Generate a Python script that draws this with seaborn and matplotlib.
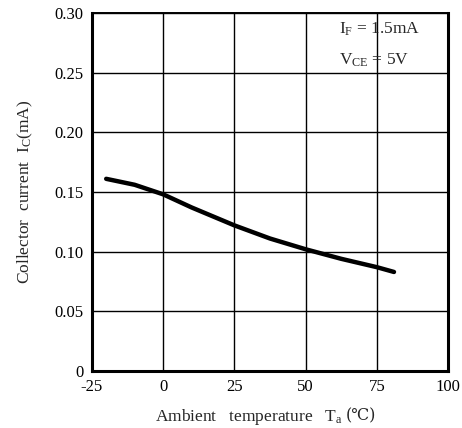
import matplotlib
matplotlib.use("Agg")
import matplotlib.pyplot as plt
import seaborn as sns
import pandas as pd

# Collector current vs. ambient temperature (I_F = 1.5 mA, V_CE = 5 V)
temperature = [-20, -10, 0, 10, 25, 37.5, 50, 62.5, 75, 81]
collector_current = [0.161, 0.156, 0.148, 0.137, 0.122, 0.111, 0.102, 0.094, 0.087, 0.083]

x_ticks = [-25, 0, 25, 50, 75, 100]
y_ticks = [0, 0.05, 0.10, 0.15, 0.20, 0.25, 0.30]
y_tick_labels = ["0", "0.05", "0.10", "0.15", "0.20", "0.25", "0.30"]

sns.set_theme(style="white")
serif = ["Liberation Serif", "DejaVu Serif", "DejaVu Sans"]
plt.rcParams["font.family"] = serif
plt.rcParams["mathtext.fontset"] = "custom"
plt.rcParams["mathtext.rm"] = "Liberation Serif"
plt.rcParams["mathtext.it"] = "Liberation Serif:italic"

df = pd.DataFrame({"Ta": temperature, "Ic": collector_current})

fig = plt.figure(figsize=(4.62, 4.28), dpi=100)
ax = fig.add_axes([0.199, 0.133, 0.771, 0.837])

sns.lineplot(data=df, x="Ta", y="Ic", ax=ax, color="black", linewidth=3.2)

ax.set_xlim(-25, 100)
ax.set_ylim(0, 0.30)
ax.set_xticks(x_ticks)
ax.set_xticklabels([str(t) for t in x_ticks])
ax.set_yticks(y_ticks)
ax.set_yticklabels(y_tick_labels)
ax.tick_params(axis="both", length=0, labelsize=12, colors="black", pad=6)
ax.set_xlabel("")

ax.grid(True, color="black", linewidth=1.0)
for side in ["left", "bottom", "right"]:
    ax.spines[side].set_linewidth(2.2)
    ax.spines[side].set_color("black")
ax.spines["top"].set_linewidth(1.4)
ax.spines["top"].set_color("black")

# x title: main part with a mathtext subscript, then the ℃ sign in DejaVu Serif
t1 = fig.text(0.335, 0.016, r"Ambient   temperature   T$_\mathregular{a}$",
              fontsize=12.5, ha="left", va="baseline")
ax.annotate("(℃)", xy=(1.0, 0.0), xycoords=t1, xytext=(2, 2.2), textcoords="offset points",
            fontsize=11.5, family=["DejaVu Serif"], ha="left", va="bottom",
            annotation_clip=False)

ax.set_ylabel(r"Collector  current  I$_\mathregular{C}$(mA)", fontsize=12.5, labelpad=14)

ax.text(0.695, 0.953, r"I$_\mathregular{F}$ = 1.5mA", transform=ax.transAxes,
        fontsize=12.5, va="center", ha="left")
ax.text(0.695, 0.868, r"V$_\mathregular{CE}$ = 5V", transform=ax.transAxes,
        fontsize=12.5, va="center", ha="left")

fig.savefig("out.png", dpi=100)
